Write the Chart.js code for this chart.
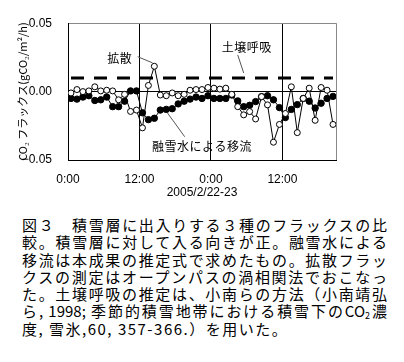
<!DOCTYPE html>
<html>
<head>
<meta charset="utf-8">
<script src="https://cdn.jsdelivr.net/npm/chart.js@4"></script>
<style>
  body { margin: 0; background: #fff; width: 404px; height: 362px; overflow: hidden; position: relative; }
  #wrap { position: absolute; left: 0; top: 0; width: 404px; height: 205px; }
  #cap { position: absolute; left: 22px; top: 216px; width: 365px;
         font-family: "Noto Sans CJK JP", sans-serif; font-size: 15px; line-height: 17.3px; color: #000; }
  #cap div { white-space: nowrap; }
  #cap .j { text-align: justify; text-align-last: justify; text-justify: inter-character; }
  #cap sub { font-size: 9px; vertical-align: -2px; line-height: 0; }
</style>
</head>
<body>
<div id="wrap"><canvas id="myChart" width="404" height="205"></canvas></div>
<div id="cap">
  <div class="j">図３　積雪層に出入りする３種のフラックスの比</div>
  <div class="j">較。積雪層に対して入る向きが正。融雪水による</div>
  <div class="j">移流は本成果の推定式で求めたもの。拡散フラッ</div>
  <div class="j">クスの測定はオープンパスの渦相関法でおこなっ</div>
  <div class="j">た。土壌呼吸の推定は、小南らの方法（小南靖弘</div>
  <div class="j">ら, 1998; 季節的積雪地帯における積雪下のCO<sub>2</sub>濃</div>
  <div style="letter-spacing:1.5px">度, 雪氷,60, 357-366.）を用いた。</div>
</div>
<script>
// hours since 2005/2/22 0:00 (hourly values)
var hours = [0.5, 1.5, 2.5, 3.5, 4.5, 5.5, 6.5, 7.5, 8.5, 9.5, 10.5, 11.5,
             12.5, 13.5, 14.5, 15.5, 16.5, 17.5, 18.5, 19.5, 20.5, 21.5, 22.5, 23.5,
             24.5, 25.5, 26.5, 27.5, 28.5, 29.5, 30.5, 31.5, 32.5, 33.5, 34.5, 35.5,
             36.5, 37.5, 38.5, 39.5, 40.5, 41.5, 42.5, 43.5, 44.5];

// 拡散 (open circles)
var diffusion = [-0.001, 0.0015, 0, 0.0005, 0.0035, 0.0005, 0.001, 0.0005, -0.006, -0.002, -0.0145, -0.0135,
                 -0.0265, 0.0045, 0.0185, -0.0025, -0.003, -0.001, -0.003, -0.002, 0.001, 0.0015, 0.0015, 0.003,
                 0.0025, 0.0018, 0.0025, -0.002, -0.011, -0.017, -0.0146, -0.020, -0.0037, -0.0097, -0.037, -0.024,
                 -0.016, 0.0035, -0.030, -0.005, 0.0025, -0.021, 0.003, 0.001, -0.024];

// 融雪水による移流 (filled circles)
var advection = [-0.005, -0.0055, -0.004, -0.003, -0.0065, -0.006, -0.004, -0.011, -0.011, -0.007, 0.0005, 0.0005,
                 -0.0155, -0.0205, -0.0195, -0.0135, -0.013, -0.0125, -0.009, -0.007, -0.0055, -0.004, -0.005, -0.003,
                 -0.005, -0.005, -0.005, -0.0025, -0.0068, -0.011, -0.010, -0.0073, -0.0037, -0.003, -0.006, -0.0117,
                 -0.019, -0.013, -0.0095, -0.005, -0.007, -0.012, -0.0085, -0.005, -0.0035];

// 土壌呼吸 (dashed line)
var soilHours = [0.5, 44.5];
var soilResp = [0.01, 0.01];

var xTicks = [0, 12, 24, 36, 45];
var xTickLabels = ['0:00', '12:00', '0:00', '12:00', ''];
var yTicks = [-0.05, 0, 0.05];
var yTickLabels = ['\u22120.05', '0.00', '0.05'];

function toPoints(xs, ys) {
    return xs.map(function (x, i) { return { x: x, y: ys[i] }; });
}

// text labels with leader lines, placed in data coordinates
var notes = [
    { text: '拡散', x: 8.7, y: 0.0246, line: [11.7, 0.0255, 14.2, 0.021] },
    { text: '土壌呼吸', x: 30.0, y: 0.0326, line: [28.5, 0.0268, 29.5, 0.0136] },
    { text: '融雪水による移流', x: 22.5, y: -0.0404, line: [16.7, -0.0156, 19.6, -0.033] }
];

var notePlugin = {
    id: 'notes',
    afterDatasetsDraw: function (chart) {
        var ctx = chart.ctx, xs = chart.scales.x, ys = chart.scales.y;
        ctx.save();
        notes.forEach(function (n) {
            ctx.strokeStyle = '#555';
            ctx.lineWidth = 1;
            ctx.beginPath();
            ctx.moveTo(xs.getPixelForValue(n.line[0]), ys.getPixelForValue(n.line[1]));
            ctx.lineTo(xs.getPixelForValue(n.line[2]), ys.getPixelForValue(n.line[3]));
            ctx.stroke();
            ctx.fillStyle = '#000';
            ctx.font = '12px "Noto Sans CJK JP"';
            ctx.letterSpacing = '0.5px';
            ctx.textAlign = 'center';
            ctx.textBaseline = 'middle';
            ctx.fillText(n.text, xs.getPixelForValue(n.x), ys.getPixelForValue(n.y));
        });
        ctx.restore();
    }
};

var ctx1 = document.getElementById('myChart').getContext('2d');
var myChart = new Chart(ctx1, {
    type: 'line',
    data: {
        datasets: [
            {
                label: '拡散',
                data: toPoints(hours, diffusion),
                borderColor: '#000',
                borderWidth: 1,
                pointStyle: 'circle',
                pointRadius: 3,
                pointBackgroundColor: '#fff',
                pointBorderColor: '#000',
                pointBorderWidth: 1,
                order: 0
            },
            {
                label: '融雪水による移流',
                data: toPoints(hours, advection),
                borderColor: '#000',
                borderWidth: 1,
                pointStyle: 'circle',
                pointRadius: 3.2,
                pointBackgroundColor: '#000',
                pointBorderColor: '#000',
                pointBorderWidth: 1,
                order: 1
            },
            {
                label: '土壌呼吸',
                data: toPoints(soilHours, soilResp),
                borderColor: '#000',
                borderWidth: 3,
                borderDash: [13, 10],
                pointRadius: 0,
                order: 2
            }
        ]
    },
    options: {
        responsive: false,
        animation: false,
        layout: { padding: { left: 0, right: 68, top: 23, bottom: 0 } },
        plugins: {
            legend: { display: false },
            tooltip: { enabled: false }
        },
        scales: {
            x: {
                type: 'linear',
                min: 0,
                max: 45,
                afterBuildTicks: function (axis) {
                    axis.ticks = xTicks.map(function (v) { return { value: v }; });
                },
                afterFit: function (axis) { axis.height = 45; },
                ticks: {
                    autoSkip: false,
                    maxRotation: 0,
                    padding: 12,
                    color: '#000',
                    font: { family: 'Liberation Sans', size: 12 },
                    callback: function (v) { return xTickLabels[xTicks.indexOf(v)]; }
                },
                grid: {
                    drawTicks: false,
                    color: function (c) {
                        var v = c.tick ? c.tick.value : null;
                        if (v === 45) return '#888';
                        if (v === 0) return 'rgba(0,0,0,0)';
                        return '#000';
                    },
                    lineWidth: 1
                },
                border: { color: '#000', width: 1 },
                title: {
                    display: true,
                    text: '2005/2/22-23',
                    color: '#000',
                    font: { family: 'Liberation Sans', size: 12 },
                    padding: { top: 0, bottom: 5 }
                }
            },
            y: {
                min: -0.05,
                max: 0.05,
                afterBuildTicks: function (axis) {
                    axis.ticks = yTicks.map(function (v) { return { value: v }; });
                },
                afterFit: function (axis) { axis.width = 68; },
                ticks: {
                    padding: 16,
                    color: '#000',
                    font: { family: 'Liberation Sans', size: 12 },
                    callback: function (v) { return yTickLabels[yTicks.indexOf(v)]; }
                },
                grid: {
                    drawTicks: false,
                    color: function (c) {
                        var v = c.tick ? c.tick.value : null;
                        if (v === 0.05) return '#888';
                        if (v === 0) return '#000';
                        return 'rgba(0,0,0,0)';
                    },
                    lineWidth: 1
                },
                border: { color: '#000', width: 1 },
                title: {
                    display: true,
                    text: 'CO₂ フラックス(gCO₂/m²/h)',
                    color: '#000',
                    font: { family: '"Noto Sans CJK JP"', size: 11 },
                    padding: { top: 16, bottom: 0 }
                }
            }
        }
    },
    plugins: [notePlugin]
});
</script>
</body>
</html>
